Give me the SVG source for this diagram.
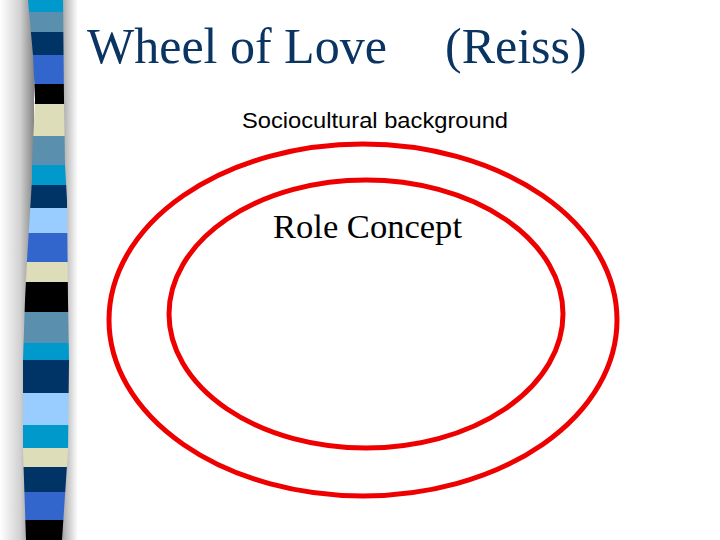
<svg xmlns="http://www.w3.org/2000/svg" width="720" height="540" viewBox="0 0 720 540">
<defs>
<linearGradient id="shL" x1="0" y1="0" x2="1" y2="0">
<stop offset="0" stop-color="#ffffff"/>
<stop offset="0.6" stop-color="#d0d0d0"/>
<stop offset="1" stop-color="#858585"/>
</linearGradient>
<linearGradient id="shR" x1="0" y1="0" x2="1" y2="0">
<stop offset="0" stop-color="#858585"/>
<stop offset="0.4" stop-color="#bdbdbd"/>
<stop offset="1" stop-color="#ffffff"/>
</linearGradient>
<clipPath id="stripeClip">
<polygon points="28,0 63,0 64,100 65,165 67,200 68,300 69,360 68,450 62,540 26,540 23,450 23,360 25,300 27,260 32,180 32,165 35,100 33,55"/>
</clipPath>
<style>
.title{font-family:"Liberation Serif","Times New Roman",serif;font-size:50px;fill:#0a3563}
.sub{font-family:"Liberation Sans",Arial,sans-serif;font-size:22px;fill:#000}
.role{font-family:"Liberation Serif","Times New Roman",serif;font-size:33px;fill:#000}
.ring{fill:none;stroke:#ee0000;stroke-width:5}
</style>
</defs>
<rect x="0" y="0" width="720" height="540" fill="#ffffff"/>
<g id="stripe">
<rect x="0" y="0" width="34" height="540" fill="url(#shL)"/>
<rect x="58" y="0" width="20" height="540" fill="url(#shR)"/>
<g clip-path="url(#stripeClip)">
<rect x="0" y="0" width="80" height="12" fill="#0099cc"/>
<rect x="0" y="12" width="80" height="20" fill="#5b8fae"/>
<rect x="0" y="32" width="80" height="23" fill="#003366"/>
<rect x="0" y="55" width="80" height="29" fill="#3366cc"/>
<rect x="0" y="84" width="80" height="20" fill="#000000"/>
<rect x="0" y="104" width="80" height="32" fill="#ddddb9"/>
<rect x="0" y="136" width="80" height="29" fill="#5b8fae"/>
<rect x="0" y="165" width="80" height="20" fill="#0099cc"/>
<rect x="0" y="185" width="80" height="23" fill="#003366"/>
<rect x="0" y="208" width="80" height="25" fill="#99ccff"/>
<rect x="0" y="233" width="80" height="29" fill="#3366cc"/>
<rect x="0" y="262" width="80" height="20" fill="#ddddb9"/>
<rect x="0" y="282" width="80" height="30" fill="#000000"/>
<rect x="0" y="312" width="80" height="31" fill="#5b8fae"/>
<rect x="0" y="343" width="80" height="17" fill="#0099cc"/>
<rect x="0" y="360" width="80" height="33" fill="#003366"/>
<rect x="0" y="393" width="80" height="32" fill="#99ccff"/>
<rect x="0" y="425" width="80" height="23" fill="#0099cc"/>
<rect x="0" y="448" width="80" height="19" fill="#ddddb9"/>
<rect x="0" y="467" width="80" height="25" fill="#003366"/>
<rect x="0" y="492" width="80" height="28" fill="#3366cc"/>
<rect x="0" y="520" width="80" height="20" fill="#000000"/>
</g>
</g>
<g id="title">
<text class="title" x="87" y="63">Wheel of Love</text>
<text class="title" x="445" y="63">(Reiss)</text>
</g>
<g id="connectors"></g>
<g id="outer">
<ellipse class="ring" cx="363" cy="320" rx="254" ry="176"/>
<text class="sub" x="242" y="128" textLength="266" lengthAdjust="spacingAndGlyphs">Sociocultural background</text>
</g>
<g id="inner">
<ellipse class="ring" cx="366" cy="314" rx="197" ry="134"/>
<text class="role" x="273" y="238" textLength="189" lengthAdjust="spacingAndGlyphs">Role Concept</text>
</g>
</svg>
